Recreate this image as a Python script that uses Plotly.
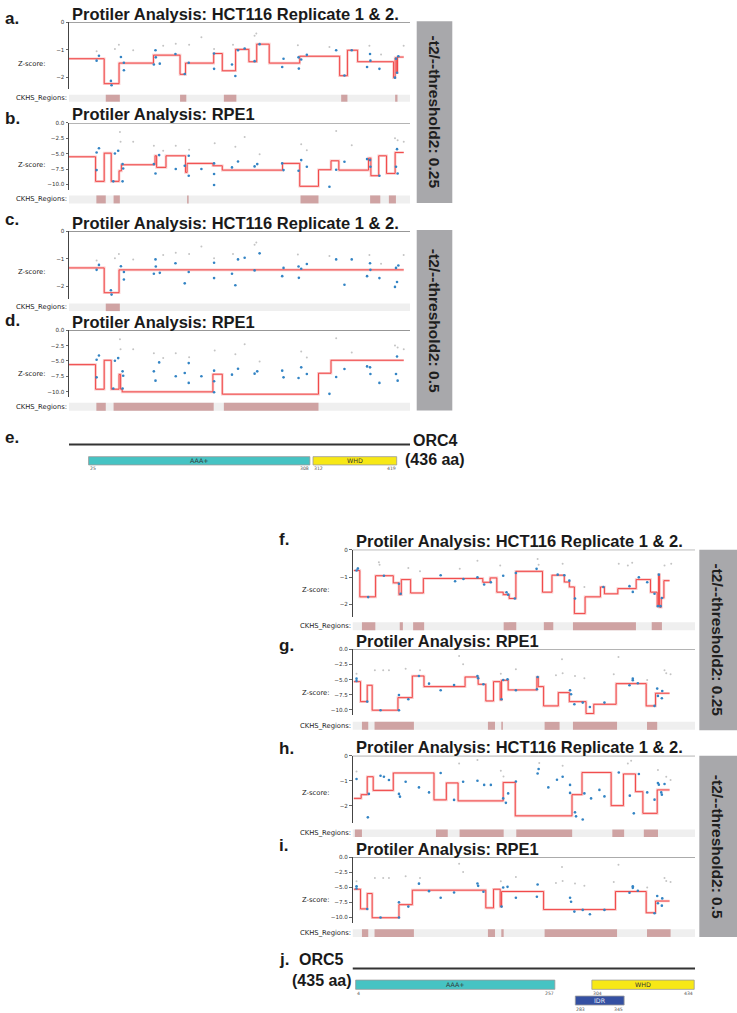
import plotly.graph_objects as go

W, H = 737, 1013
TFONT = "Liberation Sans"
MFONT = "DejaVu Sans"

# ------------------------------------------------------------------ data
ORC4_LEN = 436
ORC5_LEN = 435

HCT_TICKVALS = [0, -1, -2]
HCT_TICKTEXT = ["0", "\u22121", "\u22122"]
RPE_TICKVALS = [0, -2.5, -5, -7.5, -10]
RPE_TICKTEXT = ["0.0", "\u22122.5", "\u22125.0", "\u22127.5", "\u221210.0"]

# ORC4 / HCT116 guide scores (panels a, c)
hct4_blue_x = [35.3, 38.3, 54.4, 53.6, 66.4, 70.2, 70.2, 108.5, 111, 110.6, 116.1, 136.1, 148, 153.1, 185.5,
               185.5, 208.4, 212.7, 216.1, 224.6, 237.3, 243.7, 272.6, 274.3, 293.5, 293.9, 296.9, 304.1, 341.6,
               352.2, 361.5, 381.1, 384.9, 385.4, 396.9, 416.8, 419.4, 418.1, 421.1]
hct4_blue_y = [-1.40, -1.22, -2.30, -2.14, -1.27, -1.48, -1.75, -1.54, -1.28, -1.02, -1.51, -1.16, -1.89, -1.48,
               -1.14, -1.70, -1.54, -1.96, -1.02, -0.96, -1.42, -0.80, -1.63, -1.33, -1.28, -1.69, -1.36, -1.19,
               -1.02, -1.94, -1.02, -1.63, -1.16, -1.40, -1.70, -2.02, -1.84, -1.33, -1.24]
hct4_gray_x = [35.3, 58.7, 63.8, 82.1, 120.4, 136.5, 153.6, 169.3, 185.5, 209.7, 237.3, 239.5, 292.6, 333,
               384.1, 399, 427.9]
hct4_gray_y = [-1.06, -0.98, -0.82, -1.02, -0.86, -0.78, -0.82, -0.55, -0.98, -0.82, -0.49, -0.41, -0.84,
               -0.90, -0.86, -1.18, -0.86]

# ORC4 / RPE1 guide scores (panels b, d)
rpe4_blue_x = [35.3, 38.3, 35.3, 58.7, 62.9, 68.5, 69.3, 68.5, 56.6, 108.5, 110.6, 115.3, 136.5, 148, 153.1,
               153.1, 169.3, 185.5, 185.5, 185.5, 208.4, 216.1, 237.3, 240.7, 272.6, 274.3, 293.5, 296.9, 304.1,
               333, 341.6, 352.2, 381.1, 384.9, 385.4, 396.9, 418.1, 419.4, 420.2]
rpe4_blue_y = [-4.81, -4.11, -7.68, -4.97, -4.54, -6.70, -7.41, -9.51, -9.51, -6.70, -8.22, -5.24, -7.51, -6.97,
               -5.35, -8.59, -7.51, -6.59, -8.32, -10.11, -7.24, -6.27, -7.08, -6.70, -6.59, -7.68, -7.78, -6.05,
               -7.14, -10.38, -7.62, -6.32, -5.89, -6.05, -7.14, -8.59, -7.14, -4.27, -8.22]
rpe4_gray_x = [65.1, 65.9, 82.1, 108.5, 120.4, 136.5, 153.6, 186.3, 212.7, 224.6, 243.7, 296.9, 304.1, 341.6,
               361.5, 416.8, 420.2, 428]
rpe4_gray_y = [-1.46, -3.08, -3.08, -3.73, -4.54, -3.73, -4.38, -3.30, -3.89, -2.27, -5.08, -3.46, -4.43, -1.30,
               -3.62, -2.49, -2.81, -3.08]

# ORC5 / HCT116 guide scores, panel f
hct5f_blue_x = [5.1, 6.8, 19.9, 39.9, 59, 61.1, 112, 130.3, 140.9, 158.7, 167.2, 175.7, 191.4, 195.6, 197.7,
                206.2, 207.5, 233.8, 260.6, 269, 275.4, 282.6, 318.7, 351.8, 356, 363.7, 374.3, 383.6, 387.9,
                389.1, 391.2, 392.9]
hct5f_blue_y = [-0.76, -0.69, -1.73, -0.95, -1.24, -1.61, -0.93, -1.15, -1.07, -1.01, -1.27, -1.19, -0.95, -1.55,
                -1.64, -1.78, -0.85, -0.70, -0.91, -0.93, -1.13, -1.78, -1.36, -1.33, -1.54, -1.01, -1.19, -1.61,
                -2.06, -0.91, -2.06, -1.76]
hct5f_gray_x = [6.8, 33.5, 34.4, 70.9, 85.7, 136.2, 158.7, 187.6, 235.1, 236.4, 266.9, 294.5, 338.2, 349.7,
                355.2, 396.3, 404.8]
hct5f_gray_y = [-0.67, -0.46, -0.55, -0.67, -0.79, -0.70, -0.40, -0.58, -0.34, -0.55, -0.51, -1.36, -0.51,
                -0.58, -0.48, -0.58, -0.51]

# ORC5 / HCT116 guide scores, panel h
hct5h_blue_x = [5.1, 19.5, 20.8, 35.6, 39.9, 46.3, 59, 60.3, 67.5, 84.4, 97.2, 112, 129, 140.5, 158.7, 167.2,
                175.7, 191.4, 194.8, 197.7, 207.5, 235.1, 236.4, 248.7, 259.7, 266.9, 276.3, 276.3, 282.6, 283.9,
                292.4, 294.5, 303, 313.6, 320, 338.2, 352.2, 357.3, 363.7, 374.3, 383.6, 387.9, 389.1, 392.9,
                392.1, 396.3]
hct5h_blue_y = [-0.93, -2.47, -1.53, -0.80, -0.84, -0.97, -1.53, -1.64, -1.04, -1.27, -1.47, -0.69, -1.77, -1.04,
                -1.00, -1.17, -1.17, -1.71, -1.89, -1.51, -1.03, -0.71, -0.53, -1.27, -0.96, -0.84, -1.17, -1.49,
                -2.27, -2.43, -2.56, -1.51, -1.71, -1.37, -1.63, -0.67, -1.60, -2.31, -0.73, -1.47, -1.76, -1.09,
                -1.16, -1.56, -1.47, -1.13]
hct5h_gray_x = [5.1, 135.4, 158.7, 188.4, 191.8, 237.2, 266.9, 349.7, 353.9, 387.9, 398.5, 404]
hct5h_gray_y = [-0.63, -0.31, -0.17, -0.60, -0.83, -0.29, -0.40, -0.31, -0.20, -0.57, -0.84, -0.97]

# ORC5 / RPE1 guide scores (panels g, i)
rpe5_blue_x = [5.1, 5.1, 18.7, 35.6, 59, 59, 70.9, 84.4, 97.2, 112, 129, 158.7, 159.6, 166.3, 189.3, 191.4,
               196.9, 207.5, 234.2, 235.1, 276.3, 277.6, 281.8, 292.4, 301.5, 320, 351.8, 356, 356, 362.4, 383.6,
               387, 387.9, 393.4, 392.9]
rpe5_blue_y = [-5.22, -4.84, -8.63, -10.05, -7.53, -10.05, -8.24, -4.41, -5.66, -6.76, -5.88, -4.40, -4.78, -5.77,
               -8.24, -5.05, -4.95, -6.76, -6.59, -4.56, -6.76, -7.42, -9.07, -8.79, -9.51, -8.79, -5.93, -5.11,
               -4.84, -5.60, -9.34, -6.48, -7.69, -6.87, -8.08]
rpe5_gray_x = [5.1, 28.4, 39, 46.3, 67.5, 85.7, 135.4, 140.5, 188.4, 207.5, 258.4, 266.1, 266.9, 282.6, 294.5,
               331.8, 337.8, 374.3, 396.3, 398.5, 404]
rpe5_gray_y = [-4.01, -3.46, -3.46, -3.46, -3.19, -3.46, -1.10, -2.47, -4.01, -3.30, -4.29, -1.65, -3.96, -4.40,
               -4.78, -4.12, -1.26, -5.05, -3.46, -3.96, -4.12]

# segmentation (step) lines: segment edges (residue) and segment levels (Z-score)
a_edges = [0, 45, 64, 108, 142, 149, 185, 196, 213, 230, 240, 256, 295, 346, 356, 369, 415, 417, 419, 420, 428]
a_levels = [-1.33, -2.24, -1.49, -1.20, -1.90, -1.49, -1.14, -1.77, -0.99, -1.44, -0.80, -1.49, -1.24, -1.95,
            -1.02, -1.44, -2.02, -1.30, -1.84, -1.27]
b_edges = [0, 34, 45, 54, 64, 67, 110, 112, 124, 149, 151, 184, 196, 273, 295, 319, 335, 345, 383, 386, 396,
           406, 417, 428]
b_levels = [-5.51, -9.51, -4.92, -9.51, -7.8, -6.81, -5.35, -7.24, -5.35, -8.05, -6.59, -6.97, -7.68, -6.59,
            -10.32, -7.62, -6.16, -7.68, -5.73, -8.59, -5.35, -8.22, -4.81]
c_edges = [0, 45, 64, 428]
c_levels = [-1.33, -2.23, -1.40]
d_edges = [0, 34, 45, 54, 64, 66, 68, 184, 196, 319, 335, 428]
d_levels = [-5.6, -9.62, -4.89, -9.62, -7.2, -9.62, -10.05, -7.17, -10.43, -7.01, -4.89]
f_edges = [1.7, 9.3, 29.3, 51.8, 59, 62, 73.8, 90, 165.5, 174.8, 183.3, 191.4, 199, 207.5, 241.3, 253.3, 269,
           275.4, 281.8, 295.4, 314.9, 320, 337, 360.3, 378.5, 387, 388.7, 390, 392.1, 395.5, 402.7]
f_levels = [-0.76, -1.72, -0.95, -1.21, -1.64, -1.09, -1.58, -1.05, -1.19, -1.03, -1.55, -1.64, -1.78, -0.79,
            -1.55, -0.93, -1.18, -1.36, -2.33, -1.72, -1.36, -1.61, -1.42, -1.09, -1.55, -2.06, -0.91, -2.10,
            -1.76, -1.13]
g_edges = [1.7, 10.2, 18.7, 25, 57.7, 76, 90.8, 143, 159.6, 169.3, 179.1, 187.6, 189.3, 197.7, 234.2, 235.9,
           242.7, 261.4, 275.4, 296.6, 306.4, 334.8, 373, 384.9, 402.7]
g_levels = [-5.33, -8.63, -5.93, -10.05, -7.97, -4.40, -6.15, -4.56, -5.77, -8.52, -5.33, -8.36, -5.11, -6.70,
            -4.56, -6.15, -9.34, -7.14, -8.63, -10.6, -9.07, -5.66, -9.34, -7.25]
h_edges = [1.7, 11, 18.7, 26.3, 51.8, 103.5, 119.2, 134.1, 191.4, 206.7, 278.8, 291.5, 328.5, 344.1, 359.4,
           368.8, 387, 402.7]
h_levels = [-1.71, -1.56, -0.84, -1.39, -0.69, -1.77, -1.09, -1.81, -1.07, -2.41, -1.56, -0.67, -2.00, -0.73,
            -1.44, -2.31, -1.37]
i_edges = [1.7, 10.2, 18.7, 25, 59, 76, 169.3, 179.1, 187.6, 189.3, 242.7, 334, 373, 384.9, 402.7]
i_levels = [-5.34, -8.62, -6.05, -10.09, -7.91, -5.5, -8.45, -5.34, -8.23, -5.72, -8.73, -5.72, -9.27, -7.31]

# CKHS regions (residue start / end)
a_reg_start = [47, 142, 198, 348, 417]
a_reg_end = [65, 150, 214, 356, 420]
b_reg_start = [35, 57, 151, 296, 385, 409]
b_reg_end = [47, 65, 153, 319, 398, 418]
c_reg_start = [47]
c_reg_end = [65]
d_reg_start = [35, 57, 198]
d_reg_end = [47, 185, 319]
f_reg_start = [12, 60, 77, 192, 243, 280, 380]
f_reg_end = [29, 64, 91, 208, 255, 360, 393]
g_reg_start = [12, 28, 172, 189, 244, 280, 374]
g_reg_end = [20, 78, 181, 191, 263, 336, 387]
h_reg_start = [3, 106, 136, 208, 330, 370]
h_reg_end = [12, 121, 192, 279, 345, 388]
i_reg_start = [12, 28, 172, 189, 244, 374]
i_reg_end = [20, 78, 181, 192, 336, 404]

# protein domains
orc4_dom_names = ["AAA+", "WHD"]
orc4_dom_start = [25, 312]
orc4_dom_end = [308, 419]
orc4_dom_colors = ["#46c3c3", "#f7e816"]
orc5_dom_names = ["AAA+", "WHD", "IDR"]
orc5_dom_start = [4, 304, 283]
orc5_dom_end = [257, 434, 345]
orc5_dom_row = [0, 0, 1]
orc5_dom_colors = ["#46c3c3", "#f7e816", "#3450a2"]

TITLE_HCT = "Protiler Analysis: HCT116 Replicate 1 &amp; 2."
TITLE_RPE = "Protiler Analysis: RPE1"

# ------------------------------------------------------------------ helpers
def fy(p):
    return 1 - p / H


fig = go.Figure()
shapes = []
annotations = []
layout_axes = {}


def names(i):
    if i == 1:
        return "x", "y", "xaxis", "yaxis"
    return f"x{i}", f"y{i}", f"xaxis{i}", f"yaxis{i}"


def text(x, y, s, size, bold=False, xanchor="left", yanchor="middle", family=TFONT, color="#1a1a1a",
         xref="paper", angle=0):
    annotations.append(dict(
        x=x / W if xref == "paper" else x, xref=xref, y=fy(y), yref="paper",
        xanchor=xanchor, yanchor=yanchor, text=f"<b>{s}</b>" if bold else s, showarrow=False,
        textangle=angle, font=dict(size=size, family=family, color=color), borderpad=0))


def step_xy(edges, levels):
    xs, ys = [], []
    for k, lv in enumerate(levels):
        xs += [edges[k], edges[k + 1]]
        ys += [lv, lv]
    return xs, ys


panels = [
    dict(letter="a.", title=TITLE_HCT, L=ORC4_LEN, x0=69, x1=410, top=19.3, ppu=27.5, ymin=-2.42, bar=(92, 99),
         zlab=61, edges=a_edges, levels=a_levels, rs=a_reg_start, re=a_reg_end,
         bx=hct4_blue_x, by=hct4_blue_y, gx=hct4_gray_x, gy=hct4_gray_y, tick="hct", lx=4, ly=15.5, tx=71),
    dict(letter="b.", title=TITLE_RPE, L=ORC4_LEN, x0=69, x1=410, top=120.3, ppu=6.16, ymin=-10.9, bar=(193, 201),
         zlab=162.7, edges=b_edges, levels=b_levels, rs=b_reg_start, re=b_reg_end,
         bx=rpe4_blue_x, by=rpe4_blue_y, gx=rpe4_gray_x, gy=rpe4_gray_y, tick="rpe", lx=4, ly=116, tx=71),
    dict(letter="c.", title=TITLE_HCT, L=ORC4_LEN, x0=69, x1=410, top=229, ppu=27.6, ymin=-2.45, bar=(301.5, 309),
         zlab=270, edges=c_edges, levels=c_levels, rs=c_reg_start, re=c_reg_end,
         bx=hct4_blue_x, by=hct4_blue_y, gx=hct4_gray_x, gy=hct4_gray_y, tick="hct", lx=4, ly=217, tx=71),
    dict(letter="d.", title=TITLE_RPE, L=ORC4_LEN, x0=69, x1=410, top=328.3, ppu=6.14, ymin=-10.9, bar=(401, 409),
         zlab=371.7, edges=d_edges, levels=d_levels, rs=d_reg_start, re=d_reg_end,
         bx=rpe4_blue_x, by=rpe4_blue_y, gx=rpe4_gray_x, gy=rpe4_gray_y, tick="rpe", lx=4, ly=318, tx=71),
    dict(letter="f.", title=TITLE_HCT, L=ORC5_LEN, x0=352.5, x1=695, top=548.3, ppu=27.5, ymin=-2.45, bar=(621, 629),
         zlab=588.3, edges=f_edges, levels=f_levels, rs=f_reg_start, re=f_reg_end,
         bx=hct5f_blue_x, by=hct5f_blue_y, gx=hct5f_gray_x, gy=hct5f_gray_y, tick="hct", lx=278, ly=538, tx=355),
    dict(letter="g.", title=TITLE_RPE, L=ORC5_LEN, x0=352.5, x1=695, top=648.3, ppu=6.07, ymin=-10.9, bar=(721, 729),
         zlab=692.3, edges=g_edges, levels=g_levels, rs=g_reg_start, re=g_reg_end,
         bx=rpe5_blue_x, by=rpe5_blue_y, gx=rpe5_gray_x, gy=rpe5_gray_y, tick="rpe", lx=278, ly=644, tx=355),
    dict(letter="h.", title=TITLE_HCT, L=ORC5_LEN, x0=352.5, x1=695, top=755, ppu=25, ymin=-2.7, bar=(829, 836.5),
         zlab=792.7, edges=h_edges, levels=h_levels, rs=h_reg_start, re=h_reg_end,
         bx=hct5h_blue_x, by=hct5h_blue_y, gx=hct5h_gray_x, gy=hct5h_gray_y, tick="hct", lx=278, ly=748, tx=355),
    dict(letter="i.", title=TITLE_RPE, L=ORC5_LEN, x0=352.5, x1=695, top=856.7, ppu=6.02, ymin=-10.9, bar=(929, 936.7),
         zlab=899.3, edges=i_edges, levels=i_levels, rs=i_reg_start, re=i_reg_end,
         bx=rpe5_blue_x, by=rpe5_blue_y, gx=rpe5_gray_x, gy=rpe5_gray_y, tick="rpe", lx=278, ly=845, tx=355),
]

for n, p in enumerate(panels, start=1):
    xs, ys, xk, yk = names(n)
    bottom = p["top"] + (-p["ymin"]) * p["ppu"]
    tv, tt = (HCT_TICKVALS, HCT_TICKTEXT) if p["tick"] == "hct" else (RPE_TICKVALS, RPE_TICKTEXT)
    layout_axes[xk] = dict(domain=[p["x0"] / W, p["x1"] / W], range=[0, p["L"]], visible=False, anchor=ys,
                           fixedrange=True)
    layout_axes[yk] = dict(domain=[fy(bottom), fy(p["top"])], range=[p["ymin"], 0], anchor=xs,
                           showline=True, linecolor="#444", linewidth=1, ticks="outside", ticklen=2.5,
                           tickwidth=0.8, tickcolor="#444", tickvals=tv, ticktext=tt,
                           tickfont=dict(family=MFONT, size=5.6, color="#333"), showgrid=False,
                           zeroline=False, fixedrange=True)
    sx, sy = step_xy(p["edges"], p["levels"])
    fig.add_trace(go.Scatter(x=sx, y=sy, mode="lines", xaxis=xs, yaxis=ys, showlegend=False, hoverinfo="skip",
                             line=dict(color="rgba(246,150,150,0.5)", width=2.6)))
    fig.add_trace(go.Scatter(x=sx, y=sy, mode="lines", xaxis=xs, yaxis=ys, showlegend=False, hoverinfo="skip",
                             line=dict(color="#ef3a3a", width=0.9)))
    fig.add_trace(go.Scatter(x=p["gx"], y=p["gy"], mode="markers", xaxis=xs, yaxis=ys, showlegend=False,
                             hoverinfo="skip", marker=dict(size=2.0, color="#c4c4c4")))
    fig.add_trace(go.Scatter(x=p["bx"], y=p["by"], mode="markers", xaxis=xs, yaxis=ys, showlegend=False,
                             hoverinfo="skip", marker=dict(size=2.6, color="#3384c4")))
    # top spine
    shapes.append(dict(type="line", xref=f"{xs} domain", x0=0, x1=1, yref=ys, y0=0, y1=0,
                       line=dict(color="#555", width=1)))
    # CKHS region track
    shapes.append(dict(type="rect", xref=xs, x0=0, x1=p["L"], yref="paper", y0=fy(p["bar"][1]),
                       y1=fy(p["bar"][0]), fillcolor="#efefef", line=dict(width=0)))
    for s, e in zip(p["rs"], p["re"]):
        shapes.append(dict(type="rect", xref=xs, x0=s, x1=e, yref="paper", y0=fy(p["bar"][1]),
                           y1=fy(p["bar"][0]), fillcolor="#cfa3a3", line=dict(width=0)))
    # labels
    text(p["x0"] - 52, p["zlab"], "Z-score:", 6.8, family=MFONT, color="#222")
    text(p["x0"] - 1, (p["bar"][0] + p["bar"][1]) / 2, "CKHS_Regions:", 6.8, family=MFONT, color="#222",
         xanchor="right")
    text(p["tx"], p["top"] - 8.5, p["title"], 16.5, bold=True)
    text(p["lx"], p["ly"], p["letter"], 17, bold=True)

# ------------------------------------------------------------------ threshold side boxes
side_boxes = [
    (416.7, 452.3, 18.3, 200.5, "-t2/--threshold2: 0.25"),
    (416.7, 452.3, 227.7, 408.8, "-t2/--threshold2: 0.5"),
    (699.3, 737, 548.3, 729.5, "-t2/--threshold2: 0.25"),
    (699.3, 737, 755, 936.7, "-t2/--threshold2: 0.5"),
]
for x0, x1, y0, y1, s in side_boxes:
    shapes.append(dict(type="rect", xref="paper", yref="paper", x0=x0 / W, x1=x1 / W, y0=fy(y1), y1=fy(y0),
                       fillcolor="#a8a8ab", line=dict(width=0)))
    text((x0 + x1) / 2 if x1 < 737 else 717.5, (y0 + y1) / 2, s, 15.5, bold=True, xanchor="center",
         color="#1e1e1e", angle=90)

# ------------------------------------------------------------------ domain tracks
tracks = [
    dict(idx=9, L=ORC4_LEN, x0=69, x1=410, line_y=442.7, row_y=[(455, 463.3)], num_y=[467.2],
         names=orc4_dom_names, starts=orc4_dom_start, ends=orc4_dom_end, rows=[0, 0], colors=orc4_dom_colors),
    dict(idx=10, L=ORC5_LEN, x0=352.5, x1=695, line_y=968.3, row_y=[(980, 989.3), (996, 1005)],
         num_y=[993.5, 1009.3], names=orc5_dom_names, starts=orc5_dom_start, ends=orc5_dom_end,
         rows=orc5_dom_row, colors=orc5_dom_colors),
]
for t in tracks:
    xs, ys, xk, yk = names(t["idx"])
    layout_axes[xk] = dict(domain=[t["x0"] / W, t["x1"] / W], range=[0, t["L"]], visible=False, anchor=ys,
                           fixedrange=True)
    layout_axes[yk] = dict(domain=[fy(t["row_y"][-1][1]), fy(t["line_y"] - 2)], range=[0, 1], visible=False,
                           anchor=xs, fixedrange=True)
    fig.add_trace(go.Scatter(x=[0, t["L"]], y=[0.5, 0.5], mode="markers", xaxis=xs, yaxis=ys,
                             marker=dict(opacity=0), showlegend=False, hoverinfo="skip"))
    shapes.append(dict(type="line", xref=xs, x0=0, x1=t["L"], yref="paper", y0=fy(t["line_y"]),
                       y1=fy(t["line_y"]), line=dict(color="#333", width=2)))
    for nm, s, e, r, c in zip(t["names"], t["starts"], t["ends"], t["rows"], t["colors"]):
        ya, yb = t["row_y"][r]
        shapes.append(dict(type="rect", xref=xs, x0=s, x1=e, yref="paper", y0=fy(yb), y1=fy(ya),
                           fillcolor=c, line=dict(color="#9a9a9a", width=0.8)))
        text((s + e) / 2, (ya + yb) / 2, nm, 6.3, family=MFONT, xanchor="center",
             color="#e8e8f4" if nm == "IDR" else "#333", xref=xs)
        text(s, t["num_y"][r], str(s), 4.6, family=MFONT, color="#555", xref=xs)
        text(e, t["num_y"][r], str(e), 4.6, family=MFONT, color="#555", xref=xs, xanchor="right")

text(4, 436, "e.", 17, bold=True)
text(412, 438.5, "ORC4", 16, bold=True)
text(404, 457.5, "(436 aa)", 16, bold=True)
text(278, 959.5, "j.", 17, bold=True)
text(298, 959.5, "ORC5", 16, bold=True)
text(290.5, 980.5, "(435 aa)", 16, bold=True)

fig.update_layout(
    width=W, height=H, autosize=False,
    margin=dict(l=0, r=0, t=0, b=0),
    paper_bgcolor="white", plot_bgcolor="rgba(0,0,0,0)",
    showlegend=False, shapes=shapes, annotations=annotations,
    **layout_axes,
)

fig.write_html("out.html", config={"displayModeBar": False, "staticPlot": True},
               post_script="document.body.style.margin='0px';document.body.style.overflow='hidden';")
